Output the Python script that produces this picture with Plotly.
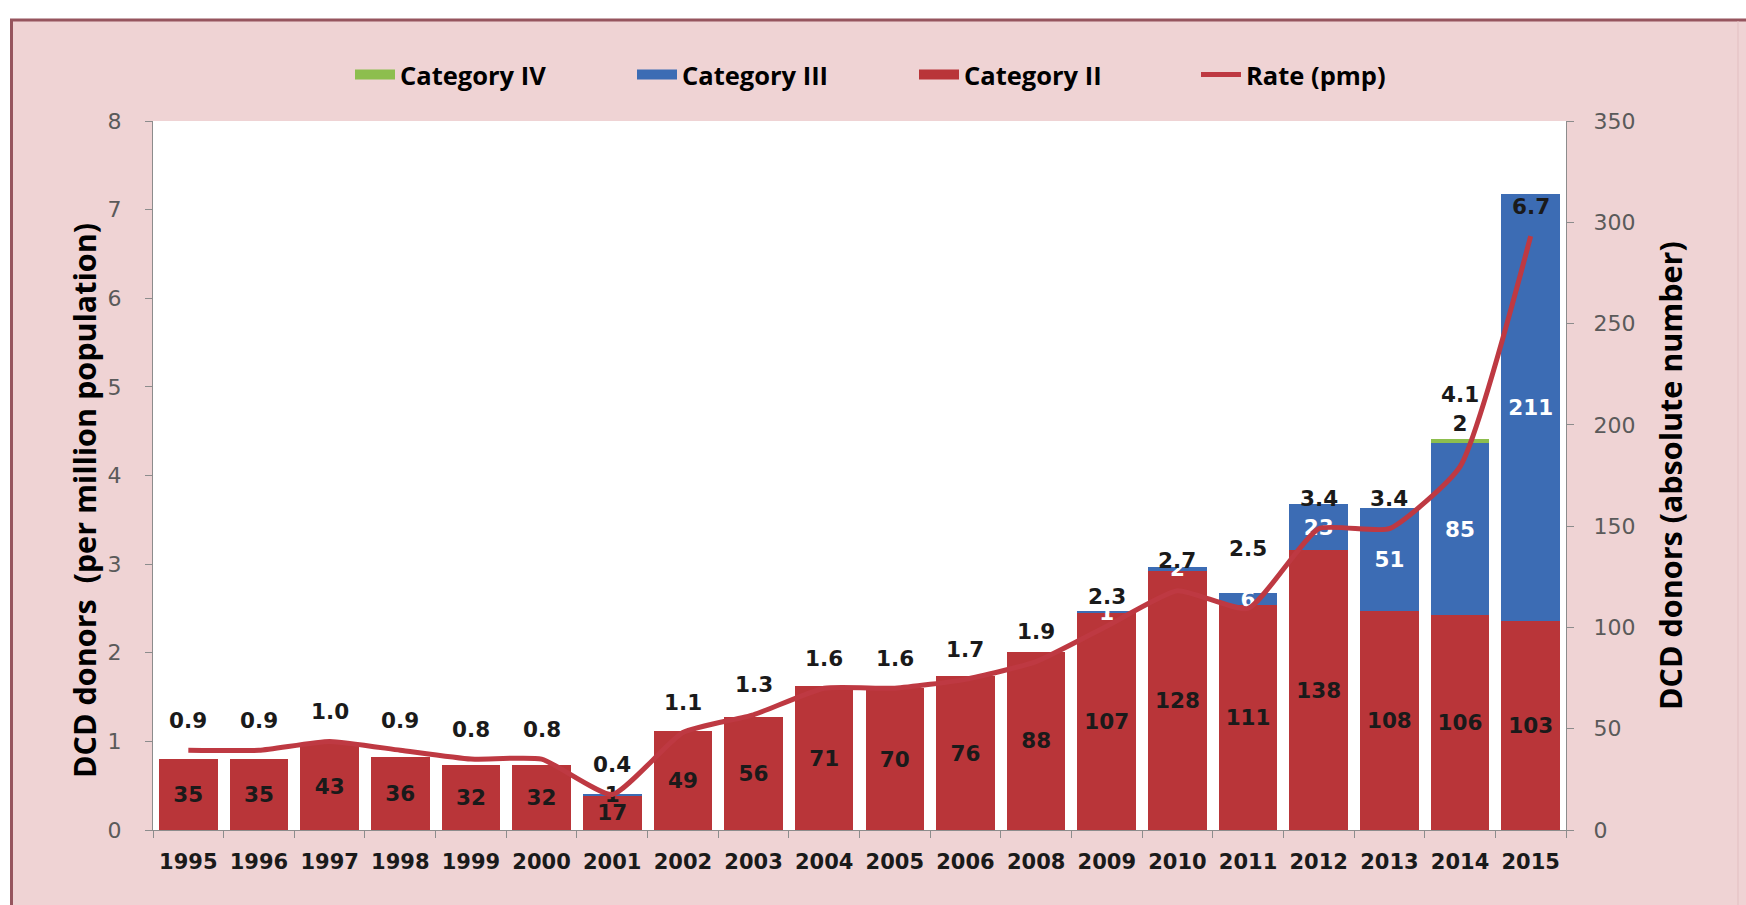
import plotly.graph_objects as go

# ---------------- data ----------------
years = ["1995", "1996", "1997", "1998", "1999", "2000", "2001", "2002", "2003", "2004",
         "2005", "2006", "2008", "2009", "2010", "2011", "2012", "2013", "2014", "2015"]
cat2 = [35, 35, 43, 36, 32, 32, 17, 49, 56, 71, 70, 76, 88, 107, 128, 111, 138, 108, 106, 103]
cat3 = [0, 0, 0, 0, 0, 0, 1, 0, 0, 0, 0, 0, 0, 1, 2, 6, 23, 51, 85, 211]
cat4 = [0, 0, 0, 0, 0, 0, 0, 0, 0, 0, 0, 0, 0, 0, 0, 0, 0, 0, 2, 0]
rate = [0.9, 0.9, 1.0, 0.9, 0.8, 0.8, 0.4, 1.1, 1.3, 1.6, 1.6, 1.7, 1.9, 2.3, 2.7, 2.5, 3.4, 3.4, 4.1, 6.7]
left_ticks = [0, 1, 2, 3, 4, 5, 6, 7, 8]
right_ticks = [0, 50, 100, 150, 200, 250, 300, 350]

# ---------------- style ----------------
RED = "#B93539"
BLUE = "#3C6CB4"
GREEN = "#8DBE4E"
LINE = "#BE3942"
PINK = "#EFD3D4"
BORDER = "#96555E"
NUMFONT = "DejaVu Sans"
LEGFONT = "Open Sans"

W, H = 1746, 905
ML, MR, MT, MB = 153, 180, 121, 75
PW, PH = W - ML - MR, H - MT - MB


def px_x(p):
    return (p - ML) / PW


def px_y(p):
    return (H - MB - p) / PH


# per-label offsets (px above the line point) for the rate labels
rate_offsets = {"2011": 60, "2014": 72}

fig = go.Figure()

# bars on the primary axis (drawn right side, absolute numbers)
fig.add_trace(go.Bar(
    x=years, y=cat2, yaxis="y", marker=dict(color=RED, line=dict(width=0)),
    text=[str(v) for v in cat2], textposition="inside", insidetextanchor="middle",
    constraintext="none", textangle=0,
    textfont=dict(family=NUMFONT, size=21.5, color="#1a1a1a", weight="bold"),
    showlegend=False, cliponaxis=False, name="Category II"))

cat3_colors = ["#1a1a1a" if y == "2001" else "white" for y in years]
fig.add_trace(go.Bar(
    x=years, y=cat3, yaxis="y", marker=dict(color=BLUE, line=dict(width=0)),
    text=[str(v) if v else "" for v in cat3], textposition="inside", insidetextanchor="middle",
    constraintext="none", textangle=0,
    textfont=dict(family=NUMFONT, size=21.5, color=cat3_colors, weight="bold"),
    showlegend=False, cliponaxis=False, name="Category III"))

fig.add_trace(go.Bar(
    x=years, y=cat4, yaxis="y", marker=dict(color=GREEN, line=dict(width=0)),
    text=[str(v) if v else "" for v in cat4], textposition="outside",
    constraintext="none", textangle=0,
    textfont=dict(family=NUMFONT, size=21.5, color="#1a1a1a", weight="bold"),
    showlegend=False, cliponaxis=False, name="Category IV"))

# rate line on the overlaying axis (drawn left side, per million)
fig.add_trace(go.Scatter(
    x=years, y=rate, yaxis="y2", mode="lines",
    line=dict(color=LINE, width=5, shape="spline", smoothing=0.5),
    showlegend=False, name="Rate (pmp)"))

# legend entries
for nm, col, w, rank in [("Category IV", GREEN, 10, 1), ("Category III", BLUE, 10, 2),
                         ("Category II", RED, 10, 3), ("Rate (pmp)", LINE, 5, 4)]:
    fig.add_trace(go.Scatter(x=[years[0]], y=[None], yaxis="y2", mode="lines", name=nm,
                             line=dict(color=col, width=w), legendrank=rank,
                             showlegend=True, hoverinfo="skip"))

annotations = []
for i, (y, v) in enumerate(zip(years, rate)):
    annotations.append(dict(
        x=i, y=v, xref="x", yref="y2", text=f"{v:.1f}", showarrow=False,
        yshift=rate_offsets.get(y, 30),
        font=dict(family=NUMFONT, size=21.5, color="#1a1a1a", weight="bold")))

annotations.append(dict(
    x=px_x(61), y=px_y(501), xref="paper", yref="paper",
    text="DCD donors  (per million population)", textangle=-90, showarrow=False,
    font=dict(family=LEGFONT, size=30.5, color="black", weight="bold")))
annotations.append(dict(
    x=px_x(1693), y=px_y(476), xref="paper", yref="paper",
    text="DCD donors (absolute number)", textangle=-90, showarrow=False,
    font=dict(family=LEGFONT, size=30.5, color="black", weight="bold")))

shapes = [
    dict(type="rect", xref="paper", yref="paper", x0=px_x(-10), x1=px_x(W + 10),
         y0=px_y(19), y1=px_y(-10), fillcolor="white", line=dict(width=0), layer="above"),
    dict(type="rect", xref="paper", yref="paper", x0=px_x(-10), x1=px_x(10),
         y0=px_y(H + 10), y1=px_y(-10), fillcolor="white", line=dict(width=0), layer="above"),
    dict(type="line", xref="paper", yref="paper", x0=px_x(10), x1=px_x(W + 10),
         y0=px_y(20), y1=px_y(20), line=dict(color=BORDER, width=3), layer="above"),
    dict(type="line", xref="paper", yref="paper", x0=px_x(11.5), x1=px_x(11.5),
         y0=px_y(19), y1=px_y(H + 10), line=dict(color=BORDER, width=3), layer="above"),
    dict(type="line", xref="paper", yref="paper", x0=px_x(1738), x1=px_x(1738),
         y0=px_y(21), y1=px_y(H + 10), line=dict(color="#E2BFC1", width=1), layer="above"),
]

axis_common = dict(showgrid=False, zeroline=False, showline=True, linecolor="#8C8C8C",
                   linewidth=1, ticks="outside", tickcolor="#8C8C8C", ticklen=7)

fig.update_layout(
    width=W, height=H,
    margin=dict(l=ML, r=MR, t=MT, b=MB, autoexpand=False),
    paper_bgcolor=PINK, plot_bgcolor="white",
    barmode="stack", bargap=0.17,
    xaxis=dict(type="category", categoryorder="array", categoryarray=years,
               range=[-0.5, len(years) - 0.5], autorange=False,
               tickson="boundaries", ticklabelstandoff=13, tickangle=0,
               tickfont=dict(family=NUMFONT, size=21, color="#1a1a1a", weight="bold"),
               **axis_common),
    yaxis=dict(range=[0, 350], tickvals=right_ticks, side="right",
               ticklabelstandoff=15,
               tickfont=dict(family=NUMFONT, size=22, color="#5a5a5a"), **axis_common),
    yaxis2=dict(range=[0, 8], tickvals=left_ticks, overlaying="y", side="left",
                ticklabelstandoff=19,
                tickfont=dict(family=NUMFONT, size=22, color="#5a5a5a"), **axis_common),
    legend=dict(orientation="h", x=px_x(350), xanchor="left", y=px_y(75), yanchor="middle",
                bgcolor="rgba(0,0,0,0)", traceorder="normal",
                font=dict(family=LEGFONT, size=25.5, color="black", weight="bold"),
                entrywidth=227, entrywidthmode="pixels", itemwidth=40),
    annotations=annotations,
    shapes=shapes,
    showlegend=True,
)

fig.write_html("out.html")
